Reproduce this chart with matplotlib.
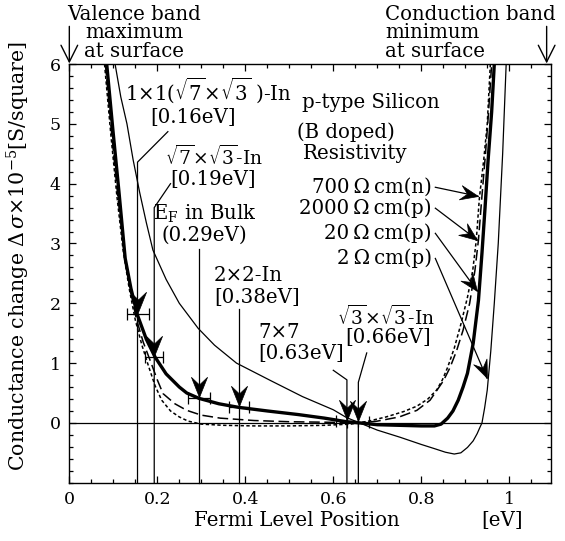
import math
import matplotlib
matplotlib.use('Agg')
import matplotlib.pyplot as plt
from matplotlib.ticker import MultipleLocator, FuncFormatter
from matplotlib.markers import MarkerStyle
from matplotlib.path import Path
from matplotlib.transforms import Affine2D

plt.rcParams['font.family'] = 'DejaVu Serif'
plt.rcParams['mathtext.fontset'] = 'dejavuserif'

# --- curve data (Fermi level [eV], delta sigma [1e-5 S/square]) ---
# 700 Ohm cm (n), short dashed
x700 = [0.08, 0.094, 0.108, 0.122, 0.136, 0.15, 0.165, 0.18, 0.195, 0.21, 0.23, 0.25, 0.27, 0.3,
        0.35, 0.42, 0.5, 0.58, 0.64, 0.68, 0.72, 0.76, 0.79, 0.815, 0.835, 0.848, 0.86, 0.875,
        0.89, 0.905, 0.917, 0.925, 0.932, 0.942, 0.95, 0.957]
y700 = [6.0, 4.85, 3.8, 2.9, 2.25, 1.72, 1.3, 0.95, 0.62, 0.38, 0.2, 0.1, 0.03, -0.02,
        -0.04, -0.05, -0.05, -0.04, -0.02, 0.03, 0.1, 0.19, 0.28, 0.4, 0.55, 0.72, 0.93, 1.25,
        1.65, 2.1, 2.55, 3.05, 3.75, 4.4, 5.0, 6.0]

# 2000 Ohm cm (p), long dashed
x2000 = [0.082, 0.096, 0.11, 0.124, 0.138, 0.152, 0.168, 0.185, 0.2, 0.213, 0.24, 0.267, 0.3,
         0.343, 0.42, 0.5, 0.6, 0.66, 0.7, 0.75, 0.79, 0.82, 0.85, 0.865, 0.88, 0.895, 0.91,
         0.922, 0.93, 0.938, 0.946, 0.953, 0.96]
y2000 = [6.0, 4.85, 3.8, 2.9, 2.25, 1.75, 1.35, 1.02, 0.72, 0.49, 0.32, 0.21, 0.13,
         0.08, 0.04, 0.02, 0.01, 0.0, 0.03, 0.1, 0.21, 0.38, 0.7, 0.92, 1.2, 1.55, 2.0,
         2.55, 3.06, 3.8, 4.5, 5.2, 6.0]

# 20 Ohm cm (p), thick solid
x20 = [0.085, 0.099, 0.113, 0.127, 0.14, 0.155, 0.175, 0.195, 0.22, 0.25, 0.267, 0.295, 0.34,
       0.385, 0.45, 0.52, 0.58, 0.63, 0.66, 0.7, 0.75, 0.8, 0.83, 0.845, 0.86, 0.872, 0.884,
       0.895, 0.905, 0.918, 0.93, 0.938, 0.945, 0.952, 0.96, 0.966]
y20 = [6.0, 4.9, 3.85, 2.75, 2.25, 1.8, 1.4, 1.1, 0.82, 0.6, 0.5, 0.41, 0.32,
       0.26, 0.2, 0.14, 0.08, 0.02, 0.0, -0.03, -0.04, -0.05, -0.05, -0.02, 0.08, 0.2, 0.38,
       0.6, 0.83, 1.33, 2.05, 2.84, 3.6, 4.4, 5.2, 6.0]

# 2 Ohm cm (p), thin solid
x2 = [0.104, 0.117, 0.131, 0.145, 0.16, 0.175, 0.19, 0.22, 0.25, 0.293, 0.33, 0.38, 0.457,
      0.53, 0.6, 0.63, 0.66, 0.7, 0.752, 0.8, 0.83, 0.855, 0.875, 0.89, 0.905, 0.918, 0.927,
      0.933, 0.938, 0.944, 0.95, 0.958, 0.966, 0.975, 0.985, 0.993]
y2 = [6.0, 5.45, 5.0, 4.4, 3.85, 3.35, 2.89, 2.4, 2.0, 1.58, 1.3, 1.0, 0.71,
      0.44, 0.22, 0.09, 0.0, -0.12, -0.24, -0.36, -0.43, -0.49, -0.52, -0.5, -0.41, -0.3, -0.18,
      -0.08, 0.0, 0.25, 0.55, 1.2, 2.0, 3.0, 4.5, 6.0]

# measured surface structures: Fermi level position, conductance point, error
struct_x = [0.155, 0.193, 0.295, 0.385, 0.631, 0.657]
struct_y = [1.82, 1.1, 0.41, 0.27, 0.03, 0.01]
struct_err = [0.025, 0.02, 0.025, 0.023, 0.025, 0.025]
# where each arrow tip sits, just above the point
tip_y = [1.86, 1.12, 0.43, 0.29, 0.05, 0.03]

x_ticks = [0, 0.2, 0.4, 0.6, 0.8, 1.0]
y_ticks = [0, 1, 2, 3, 4, 5, 6]

# notched arrow head, tip at the origin, body along +y
HEAD = Path([(0, 0), (-0.4, 1.0), (0, 0.62), (0.4, 1.0), (0, 0)],
            [Path.MOVETO, Path.LINETO, Path.LINETO, Path.LINETO, Path.CLOSEPOLY])


def arrow_head(ax, tip, tail, size=20):
    """Put a notched arrow head at tip, pointing away from tail (screen angle)."""
    p1 = ax.transData.transform(tail)
    p2 = ax.transData.transform(tip)
    ang = math.degrees(math.atan2(p2[1] - p1[1], p2[0] - p1[0]))
    m = MarkerStyle(HEAD, transform=Affine2D().rotate_deg(ang + 90))
    ax.plot([tip[0]], [tip[1]], marker=m, markersize=size, color='black',
            markeredgewidth=0.5, linestyle='none', clip_on=False)


fig = plt.figure(figsize=(5.65, 5.41), dpi=100)
ax = fig.add_axes([0.1227, 0.1077, 0.8526, 0.7739])
ax.set_xlim(0, 1.095)
ax.set_ylim(-1, 6)

ax.plot(x700, y700, color='black', lw=1.1, ls=(0, (2.2, 1.6)))
ax.plot(x2000, y2000, color='black', lw=1.1, ls=(0, (7, 3)))
ax.plot(x20, y20, color='black', lw=2.4)
ax.plot(x2, y2, color='black', lw=0.9)
ax.axhline(0, color='black', lw=0.9)

ax.errorbar(struct_x, struct_y, xerr=struct_err, fmt='none', ecolor='black',
            elinewidth=0.9, capsize=4, capthick=0.9)

# leader lines from labels down to the bottom axis
leaders = [
    [(0.224, 4.87), (0.155, 4.36), (0.155, -1)],
    [(0.23, 4.0), (0.193, 3.6), (0.193, -1)],
    [(0.295, 2.9), (0.295, -1)],
    [(0.385, 1.9), (0.385, -1)],
    [(0.6, 0.88), (0.631, 0.72), (0.631, -1)],
    [(0.676, 1.17), (0.657, 0.68), (0.657, -1)],
]
for pts in leaders:
    ax.plot([p[0] for p in pts], [p[1] for p in pts], color='black', lw=0.9, clip_on=False)

for x, y in zip(struct_x, tip_y):
    arrow_head(ax, (x, y), (x, y + 1), size=29)

fs = 14.2
ax.text(0.315, 5.56, r'1×1($\sqrt{7}$×$\sqrt{3}$ )-In', ha='center', va='center', fontsize=fs)
ax.text(0.281, 5.10, '[0.16eV]', ha='center', va='center', fontsize=fs)
ax.text(0.329, 4.45, r'$\sqrt{7}$×$\sqrt{3}$-In', ha='center', va='center', fontsize=fs - 0.7)
ax.text(0.327, 4.07, '[0.19eV]', ha='center', va='center', fontsize=fs)
ax.text(0.308, 3.50, r'E$_\mathrm{F}$ in Bulk', ha='center', va='center', fontsize=fs)
ax.text(0.306, 3.14, '(0.29eV)', ha='center', va='center', fontsize=fs)
ax.text(0.406, 2.47, '2×2-In', ha='center', va='center', fontsize=fs)
ax.text(0.427, 2.10, '[0.38eV]', ha='center', va='center', fontsize=fs)
ax.text(0.477, 1.51, '7×7', ha='center', va='center', fontsize=fs)
ax.text(0.527, 1.16, '[0.63eV]', ha='center', va='center', fontsize=fs)
ax.text(0.72, 1.77, r'$\sqrt{3}$×$\sqrt{3}$-In', ha='center', va='center', fontsize=fs - 0.7)
ax.text(0.724, 1.42, '[0.66eV]', ha='center', va='center', fontsize=fs)

ax.text(0.529, 5.35, 'p-type Silicon', ha='left', va='center', fontsize=fs)
ax.text(0.518, 4.86, '(B doped)', ha='left', va='center', fontsize=fs)
ax.text(0.531, 4.51, 'Resistivity', ha='left', va='center', fontsize=fs)

# resistivity labels and arrows to each curve
res_labels = ['700\u2009Ω\u2009cm(n)', '2000\u2009Ω\u2009cm(p)', '20\u2009Ω\u2009cm(p)', '2\u2009Ω\u2009cm(p)']
res_label_y = [3.94, 3.59, 3.17, 2.75]
res_tips = [(0.929, 3.79), (0.927, 3.06), (0.927, 2.21), (0.949, 0.75)]
for lab, ly, tip in zip(res_labels, res_label_y, res_tips):
    ax.text(0.824, ly, lab, ha='right', va='center', fontsize=fs)
    ax.plot([0.832, tip[0]], [ly, tip[1]], color='black', lw=0.9)
    arrow_head(ax, tip, (0.832, ly), size=26)

# band edge markers above the frame
ax.text(0.148, 6.52, 'Valence band\nmaximum\nat surface', ha='center', va='center',
        fontsize=fs, linespacing=0.94, clip_on=False)
ax.text(0.718, 6.52, 'Conduction band\nminimum\nat surface', ha='left', va='center',
        fontsize=fs, linespacing=0.94, clip_on=False)
for bx in [0.0, 1.085]:
    ax.annotate('', xy=(bx, 6.01), xytext=(bx, 6.63), annotation_clip=False,
                arrowprops=dict(arrowstyle='->,head_length=0.6,head_width=0.3',
                                color='black', lw=1.0, shrinkA=0, shrinkB=0,
                                mutation_scale=20))

ax.set_xticks(x_ticks)
ax.set_yticks(y_ticks)
ax.xaxis.set_major_formatter(FuncFormatter(lambda v, p: f'{v:g}'))
ax.xaxis.set_minor_locator(MultipleLocator(0.05))
ax.yaxis.set_minor_locator(MultipleLocator(0.2))
ax.tick_params(which='both', direction='in', top=True, right=True, width=0.9)
ax.tick_params(which='major', length=5, labelsize=12.5, pad=6)
ax.tick_params(which='minor', length=2.8)
for s in ax.spines.values():
    s.set_linewidth(1.0)

fig.text(0.526, 0.037, 'Fermi Level Position', ha='center', va='center', fontsize=fs)
fig.text(0.888, 0.037, '[eV]', ha='center', va='center', fontsize=fs)
fig.text(0.032, 0.527, r'Conductance change $\Delta\,\sigma$×10$^{-5}$[S/square]',
         ha='center', va='center', rotation=90, fontsize=14.8)

plt.savefig('out.png', dpi=100)
